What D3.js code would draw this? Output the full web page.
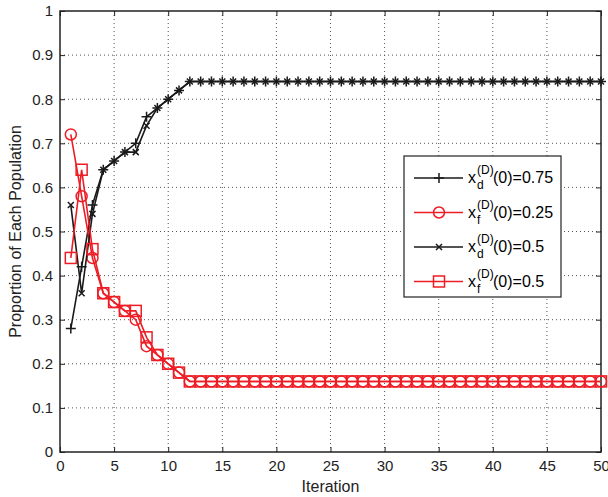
<!DOCTYPE html>
<html>
<head>
<meta charset="utf-8">
<script src="https://cdn.jsdelivr.net/npm/d3@7"></script>
<style>
  body { margin: 0; background: #fff; }
  text { font-family: "Liberation Sans", Arial, sans-serif; }
</style>
</head>
<body>
<svg id="chart" width="608" height="497"></svg>
<script>
// iteration index 1..50
const iterations = [1,2,3,4,5,6,7,8,9,10,11,12,13,14,15,16,17,18,19,20,21,22,23,24,25,
  26,27,28,29,30,31,32,33,34,35,36,37,38,39,40,41,42,43,44,45,46,47,48,49,50];

const xd075 = [0.28,0.42,0.56,0.64,0.66,0.68,0.70,0.76,0.78,0.80,0.82,0.84,0.84,0.84,0.84,
  0.84,0.84,0.84,0.84,0.84,0.84,0.84,0.84,0.84,0.84,0.84,0.84,0.84,0.84,0.84,0.84,0.84,
  0.84,0.84,0.84,0.84,0.84,0.84,0.84,0.84,0.84,0.84,0.84,0.84,0.84,0.84,0.84,0.84,0.84,0.84];
const xf025 = [0.72,0.58,0.44,0.36,0.34,0.32,0.30,0.24,0.22,0.20,0.18,0.16,0.16,0.16,0.16,
  0.16,0.16,0.16,0.16,0.16,0.16,0.16,0.16,0.16,0.16,0.16,0.16,0.16,0.16,0.16,0.16,0.16,
  0.16,0.16,0.16,0.16,0.16,0.16,0.16,0.16,0.16,0.16,0.16,0.16,0.16,0.16,0.16,0.16,0.16,0.16];
const xd05 = [0.56,0.36,0.54,0.64,0.66,0.68,0.68,0.74,0.78,0.80,0.82,0.84,0.84,0.84,0.84,
  0.84,0.84,0.84,0.84,0.84,0.84,0.84,0.84,0.84,0.84,0.84,0.84,0.84,0.84,0.84,0.84,0.84,
  0.84,0.84,0.84,0.84,0.84,0.84,0.84,0.84,0.84,0.84,0.84,0.84,0.84,0.84,0.84,0.84,0.84,0.84];
const xf05 = [0.44,0.64,0.46,0.36,0.34,0.32,0.32,0.26,0.22,0.20,0.18,0.16,0.16,0.16,0.16,
  0.16,0.16,0.16,0.16,0.16,0.16,0.16,0.16,0.16,0.16,0.16,0.16,0.16,0.16,0.16,0.16,0.16,
  0.16,0.16,0.16,0.16,0.16,0.16,0.16,0.16,0.16,0.16,0.16,0.16,0.16,0.16,0.16,0.16,0.16,0.16];

const xTicks = [0,5,10,15,20,25,30,35,40,45,50];
const yTicks = [0,0.1,0.2,0.3,0.4,0.5,0.6,0.7,0.8,0.9,1];

const series = [
  {sub: "d", rest: "(0)=0.75", values: xd075, color: "#1a1a1a", marker: "plus"},
  {sub: "f", rest: "(0)=0.25", values: xf025, color: "#ee1c24", marker: "circle"},
  {sub: "d", rest: "(0)=0.5", values: xd05, color: "#1a1a1a", marker: "cross"},
  {sub: "f", rest: "(0)=0.5", values: xf05, color: "#ee1c24", marker: "square"}
];

let svg = d3.select("#chart"),
    margin = {top: 11, right: 7, bottom: 45, left: 60},
    width = +svg.attr("width") - margin.left - margin.right,
    height = +svg.attr("height") - margin.top - margin.bottom,
    g = svg.append("g").attr("transform", "translate(" + margin.left + "," + margin.top + ")");

let x = d3.scaleLinear().domain([0, 50]).range([0, width]);
let y = d3.scaleLinear().domain([0, 1]).range([height, 0]);

// dotted grid
g.append("g").selectAll("line")
  .data(xTicks.slice(1, -1))
  .join("line")
  .attr("x1", d => x(d)).attr("x2", d => x(d))
  .attr("y1", 0).attr("y2", height)
  .attr("stroke", "#555").attr("stroke-dasharray", "1,3");
g.append("g").selectAll("line")
  .data(yTicks.slice(1, -1))
  .join("line")
  .attr("y1", d => y(d)).attr("y2", d => y(d))
  .attr("x1", 0).attr("x2", width)
  .attr("stroke", "#555").attr("stroke-dasharray", "1,3");

// axes, ticks pointing inward (matlab style)
function styleAxis(sel) {
  sel.select(".domain").remove();
  sel.selectAll(".tick line").attr("stroke", "#222");
  sel.selectAll(".tick text").attr("fill", "#222").style("font-size", "15px")
    .style("font-family", "'Liberation Sans', Arial, sans-serif");
}
g.append("g").attr("transform", "translate(0," + height + ")")
  .call(d3.axisBottom(x).tickValues(xTicks).tickSize(-5).tickPadding(8))
  .call(styleAxis);
g.append("g")
  .call(d3.axisLeft(y).tickValues(yTicks).tickFormat(d => d).tickSize(-5).tickPadding(7))
  .call(styleAxis);
g.append("g")
  .call(d3.axisTop(x).tickValues(xTicks).tickSize(-5).tickFormat(""))
  .call(styleAxis);
g.append("g").attr("transform", "translate(" + width + ",0)")
  .call(d3.axisRight(y).tickValues(yTicks).tickSize(-5).tickFormat(""))
  .call(styleAxis);

g.append("rect")
  .attr("width", width).attr("height", height)
  .attr("fill", "none").attr("stroke", "#222").attr("stroke-width", 1.5);

// marker drawing
function drawMarker(sel, type, color) {
  if (type === "plus") {
    sel.append("path").attr("d", "M-5,0H5M0,-5V5")
      .attr("stroke", color).attr("stroke-width", 1.5).attr("fill", "none");
  } else if (type === "cross") {
    sel.append("path").attr("d", "M-3,-3L3,3M-3,3L3,-3")
      .attr("stroke", color).attr("stroke-width", 1.5).attr("fill", "none");
  } else if (type === "circle") {
    sel.append("circle").attr("r", 5.5)
      .attr("stroke", color).attr("stroke-width", 1.5).attr("fill", "none");
  } else if (type === "square") {
    sel.append("rect").attr("x", -5.5).attr("y", -5.5).attr("width", 11).attr("height", 11)
      .attr("stroke", color).attr("stroke-width", 1.5).attr("fill", "none");
  }
}

let line = d3.line().x(d => x(d[0])).y(d => y(d[1]));

series.forEach(s => {
  let pts = iterations.map((it, i) => [it, s.values[i]]);
  g.append("path").datum(pts)
    .attr("d", line)
    .attr("fill", "none").attr("stroke", s.color).attr("stroke-width", 1.6);
  g.append("g").selectAll("g")
    .data(pts)
    .join("g")
    .attr("transform", d => "translate(" + x(d[0]) + "," + y(d[1]) + ")")
    .each(function() { drawMarker(d3.select(this), s.marker, s.color); });
});

// axis labels
svg.append("text")
  .attr("x", margin.left + width / 2).attr("y", 492)
  .attr("text-anchor", "middle").style("font-size", "16px").attr("fill", "#222")
  .text("Iteration");
svg.append("text")
  .attr("transform", "translate(21," + (margin.top + height / 2) + ") rotate(-90)")
  .attr("text-anchor", "middle").style("font-size", "16px").attr("fill", "#222")
  .text("Proportion of Each Population");

// legend
let legend = svg.append("g").attr("transform", "translate(404,156)");
legend.append("rect")
  .attr("width", 157).attr("height", 141)
  .attr("fill", "#fff").attr("stroke", "#222").attr("stroke-width", 1.2);

series.forEach((s, i) => {
  let ly = 22 + i * 34.5;
  let row = legend.append("g").attr("transform", "translate(0," + ly + ")");
  row.append("line").attr("x1", 10).attr("x2", 59)
    .attr("stroke", s.color).attr("stroke-width", 1.6);
  let m = row.append("g").attr("transform", "translate(35,0)");
  drawMarker(m, s.marker, s.color);
  row.append("text").attr("x", 64).attr("y", 5).style("font-size", "16px").text("x");
  row.append("text").attr("x", 73).attr("y", -4).style("font-size", "12px").text("(D)");
  row.append("text").attr("x", 73).attr("y", 11).style("font-size", "12px").text(s.sub);
  row.append("text").attr("x", 89).attr("y", 5).style("font-size", "16px").text(s.rest);
});
</script>
</body>
</html>
